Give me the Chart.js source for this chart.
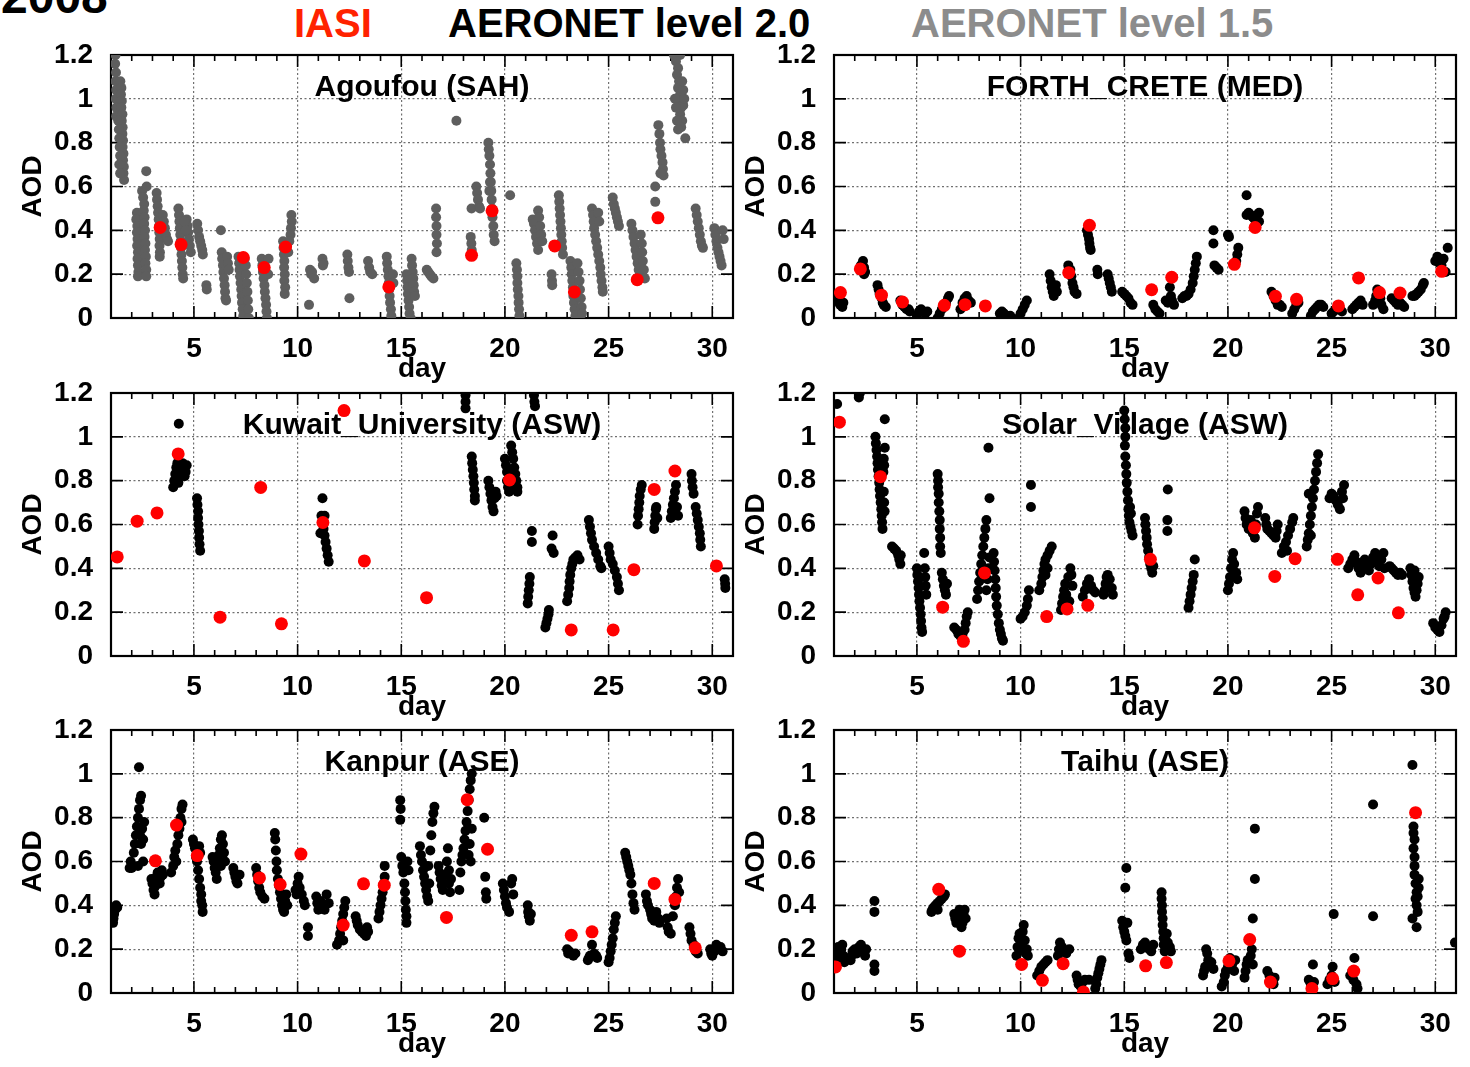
<!DOCTYPE html>
<html><head><meta charset="utf-8">
<script src="https://cdn.jsdelivr.net/npm/chart.js@4.4.1/dist/chart.umd.min.js"></script>
<style>
html,body{margin:0;padding:0;background:#fff;overflow:hidden;width:1470px;height:1067px;position:relative;}
.hd{position:absolute;font-family:'Liberation Sans',Arial,sans-serif;font-weight:bold;font-size:40px;line-height:40px;white-space:nowrap;}
canvas{position:absolute;}
</style></head><body>
<div class="hd" style="left:1px;top:-27px;font-size:48px;line-height:48px;color:#000">2008</div>
<div class="hd" style="left:294px;top:3px;color:#ff2200">IASI</div>
<div class="hd" style="left:448px;top:3px;color:#000">AERONET level 2.0</div>
<div class="hd" style="left:911px;top:3px;color:#8c8c8c">AERONET level 1.5</div>
<canvas id="c0" width="752" height="367" style="left:11px;top:19px"></canvas>
<canvas id="c1" width="752" height="367" style="left:734px;top:19px"></canvas>
<canvas id="c2" width="752" height="367" style="left:11px;top:357px"></canvas>
<canvas id="c3" width="752" height="367" style="left:734px;top:357px"></canvas>
<canvas id="c4" width="752" height="367" style="left:11px;top:694px"></canvas>
<canvas id="c5" width="752" height="367" style="left:734px;top:694px"></canvas>
<script>
// ---- axes ----
const xTicks = [5, 10, 15, 20, 25, 30];
const yTicks = [0, 0.2, 0.4, 0.6, 0.8, 1, 1.2];
const stations = ['Agoufou (SAH)', 'FORTH_CRETE (MED)', 'Kuwait_University (ASW)', 'Solar_Village (ASW)', 'Kanpur (ASE)', 'Taihu (ASE)'];

// ---- Agoufou (AERONET level 1.5) ----
const agoufouAeronet = [
[1.22,1.2],[1.2,1.16],[1.24,1.12],[1.22,1.08],[1.25,1.04],[1.23,1.0],[1.26,0.96],[1.25,0.92],
[1.45,1.08],[1.5,1.05],[1.48,1.02],[1.52,0.99],[1.5,0.96],[1.55,0.93],[1.52,0.9],[1.56,0.87],[1.55,0.84],[1.58,0.81],[1.56,0.78],[1.6,0.75],[1.58,0.72],[1.62,0.69],[1.6,0.66],[1.63,0.63],[1.35,0.9],[1.38,0.86],[1.4,0.82],[1.42,0.78],[1.44,0.74],[1.4,0.7],[1.44,0.66],
[2.25,0.48],[2.22,0.45],[2.27,0.42],[2.25,0.39],[2.28,0.36],[2.26,0.33],[2.3,0.3],[2.28,0.27],[2.3,0.24],[2.32,0.21],[2.3,0.19],
[2.5,0.58],[2.55,0.55],[2.6,0.52],[2.58,0.49],[2.62,0.46],[2.6,0.43],[2.64,0.4],[2.62,0.37],[2.66,0.34],[2.64,0.31],[2.68,0.28],[2.66,0.25],[2.7,0.22],[2.7,0.19],[2.7,0.67],[2.72,0.6],
[3.2,0.57],[3.22,0.54],[3.25,0.51],[3.27,0.48],[3.3,0.45],[3.32,0.42],[3.33,0.39],[3.35,0.36],[3.34,0.33],[3.36,0.3],[3.35,0.28],
[3.5,0.47],[3.55,0.44],[3.6,0.41],[3.65,0.38],[3.7,0.36],[3.75,0.35],
[4.25,0.5],[4.28,0.47],[4.3,0.44],[4.32,0.41],[4.34,0.38],[4.36,0.35],[4.38,0.32],[4.4,0.29],[4.42,0.26],[4.44,0.23],[4.46,0.2],[4.48,0.18],[4.65,0.45],[4.7,0.42],[4.72,0.39],[4.76,0.36],[4.8,0.33],[4.85,0.3],[4.55,0.44],[4.6,0.4],
[5.16,0.43],[5.2,0.4],[5.25,0.37],[5.3,0.35],[5.35,0.33],[5.4,0.31],[5.43,0.29],[5.6,0.15],[5.62,0.13],
[6.3,0.4],[6.34,0.3],[6.36,0.27],[6.4,0.24],[6.42,0.21],[6.45,0.18],[6.48,0.15],[6.5,0.12],[6.52,0.09],[6.55,0.08],[6.6,0.28],[6.64,0.25],[6.68,0.22],
[7.15,0.28],[7.18,0.25],[7.2,0.22],[7.22,0.19],[7.25,0.16],[7.28,0.13],[7.3,0.1],[7.32,0.07],[7.35,0.04],[7.38,0.01],[7.5,0.24],[7.52,0.2],[7.55,0.16],[7.58,0.12],[7.6,0.08],[7.62,0.04],[7.65,0.0],[7.45,0.27],
[8.27,0.27],[8.3,0.24],[8.33,0.21],[8.36,0.18],[8.4,0.15],[8.42,0.12],[8.45,0.09],[8.48,0.06],[8.5,0.03],[8.52,0.0],[8.6,0.27],[8.58,0.2],
[9.3,0.35],[9.32,0.32],[9.34,0.29],[9.36,0.26],[9.35,0.23],[9.38,0.2],[9.36,0.17],[9.4,0.14],[9.38,0.11],[9.7,0.47],[9.72,0.44],[9.68,0.41],[9.66,0.38],[9.6,0.35],[9.55,0.3],
[10.55,0.06],[10.6,0.22],[10.65,0.2],[10.7,0.21],[10.8,0.18],
[11.2,0.27],[11.25,0.25],[11.22,0.24],
[12.4,0.29],[12.42,0.26],[12.45,0.23],[12.48,0.21],[12.5,0.09],
[13.4,0.26],[13.45,0.23],[13.5,0.21],[13.6,0.2],
[14.3,0.28],[14.32,0.25],[14.35,0.22],[14.38,0.19],[14.4,0.16],[14.42,0.13],[14.44,0.1],[14.46,0.07],[14.5,0.04],[14.52,0.01],[14.6,0.2],[14.62,0.16],
[15.25,0.2],[15.28,0.17],[15.3,0.14],[15.32,0.11],[15.35,0.08],[15.38,0.05],[15.4,0.02],[15.45,0.0],[15.5,0.27],[15.52,0.24],[15.55,0.21],[15.58,0.18],[15.6,0.15],[15.62,0.12],[15.66,0.1],
[16.23,0.22],[16.3,0.21],[16.38,0.2],[16.45,0.19],[16.55,0.18],[16.68,0.5],[16.68,0.46],[16.7,0.42],[16.7,0.38],[16.72,0.34],[16.7,0.3],
[17.66,0.9],
[18.39,0.5],[18.35,0.37],[18.38,0.34],[18.4,0.31],[18.62,0.6],[18.66,0.57],[18.7,0.54],[18.75,0.51],[18.8,0.5],
[19.2,0.8],[19.22,0.77],[19.25,0.74],[19.28,0.7],[19.3,0.66],[19.32,0.62],[19.34,0.58],[19.36,0.54],[19.38,0.5],[19.4,0.46],[19.44,0.42],[19.46,0.38],[19.5,0.35],[19.28,0.62],[19.25,0.58],
[20.25,0.56],[20.55,0.25],[20.58,0.22],[20.6,0.19],[20.6,0.16],[20.62,0.13],[20.65,0.1],[20.66,0.07],[20.68,0.04],[20.7,0.01],
[21.34,0.45],[21.4,0.43],[21.45,0.4],[21.5,0.37],[21.55,0.34],[21.6,0.31],[21.6,0.49],[21.65,0.46],[21.7,0.42],[21.75,0.38],[21.8,0.35],
[22.25,0.2],[22.27,0.17],[22.28,0.15],[22.6,0.56],[22.62,0.53],[22.64,0.5],[22.66,0.47],[22.68,0.44],[22.7,0.41],[22.72,0.38],[22.74,0.35],[22.76,0.32],[22.8,0.29],
[23.16,0.26],[23.2,0.23],[23.22,0.2],[23.25,0.17],[23.28,0.14],[23.3,0.1],[23.33,0.07],[23.36,0.04],[23.4,0.01],[23.5,0.25],[23.55,0.21],[23.6,0.17],[23.62,0.13],[23.66,0.09],[23.7,0.05],[23.72,0.02],
[24.2,0.5],[24.25,0.47],[24.28,0.44],[24.3,0.41],[24.35,0.38],[24.4,0.35],[24.45,0.32],[24.5,0.29],[24.55,0.26],[24.6,0.23],[24.62,0.2],[24.66,0.17],[24.7,0.14],[24.72,0.12],[24.5,0.48],[24.55,0.44],
[25.2,0.55],[25.25,0.52],[25.3,0.5],[25.35,0.48],[25.4,0.46],[25.45,0.44],[25.5,0.42],
[26.1,0.43],[26.15,0.4],[26.2,0.37],[26.25,0.34],[26.3,0.31],[26.35,0.28],[26.4,0.25],[26.45,0.22],[26.5,0.2],[26.55,0.38],[26.6,0.34],[26.62,0.3],[26.65,0.26],[26.7,0.22],[26.75,0.18],
[27.25,0.6],[27.25,0.53],[27.4,0.88],[27.45,0.84],[27.48,0.8],[27.5,0.77],[27.55,0.74],[27.6,0.71],[27.62,0.68],[27.65,0.65],[27.5,0.66],
[28.15,1.2],[28.3,1.2],[28.45,1.2],[28.25,1.17],[28.35,1.14],[28.3,1.11],[28.4,1.08],[28.35,1.05],[28.45,1.02],[28.4,0.99],[28.5,0.96],[28.45,0.93],[28.55,0.9],[28.5,0.87],[28.6,0.97],[28.65,1.0],[28.6,1.04],[28.55,1.08],[28.3,0.9],[28.35,0.86],[28.7,0.82],[28.2,1.0],[28.25,0.96],
[29.2,0.5],[29.25,0.47],[29.3,0.44],[29.35,0.41],[29.4,0.38],[29.45,0.35],[29.5,0.33],[29.55,0.32],
[30.1,0.41],[30.15,0.38],[30.2,0.35],[30.25,0.32],[30.3,0.3],[30.35,0.28],[30.4,0.26],[30.45,0.24],[30.5,0.4],[30.55,0.36]
];
const agoufouIasi = [[3.37,0.413],[4.38,0.335],[7.38,0.276],[8.39,0.23],[9.42,0.324],[14.4,0.142],[18.39,0.286],[19.38,0.489],[22.4,0.329],[23.35,0.119],[26.38,0.175],[27.38,0.457]];

// ---- FORTH_CRETE ----
const forthAeronet = [
[1.2,0.09],[1.25,0.07],[1.3,0.06],[1.4,0.05],[1.45,0.07],
[2.3,0.24],[2.4,0.26],[2.45,0.23],[2.5,0.21],[2.45,0.2],
[3.1,0.15],[3.15,0.13],[3.2,0.11],[3.3,0.09],[3.35,0.07],[3.4,0.06],[3.5,0.05],
[4.2,0.08],[4.3,0.06],[4.4,0.05],[4.5,0.04],[4.6,0.04],[4.65,0.03],
[5.0,0.01],[5.1,0.03],[5.2,0.04],[5.3,0.03],[5.4,0.02],[5.5,0.03],
[6.0,0.0],[6.1,0.02],[6.2,0.04],[6.3,0.06],[6.4,0.07],[6.5,0.09],[6.55,0.1],
[7.1,0.04],[7.2,0.07],[7.3,0.09],[7.4,0.1],[7.5,0.08],[7.6,0.07],
[9.0,0.02],[9.1,0.03],[9.2,0.02],[9.3,0.01],[9.4,0.0],[9.5,0.01],
[9.9,0.0],[10.0,0.02],[10.1,0.04],[10.2,0.06],[10.3,0.08],
[11.4,0.2],[11.45,0.17],[11.5,0.14],[11.55,0.12],[11.6,0.1],[11.7,0.15],[11.75,0.12],
[12.3,0.24],[12.4,0.22],[12.45,0.19],[12.5,0.16],[12.55,0.14],[12.6,0.12],[12.7,0.11],
[13.2,0.4],[13.25,0.38],[13.3,0.36],[13.32,0.34],[13.35,0.32],[13.38,0.31],[13.7,0.22],[13.72,0.2],
[14.2,0.2],[14.25,0.18],[14.3,0.16],[14.35,0.14],[14.4,0.12],
[14.9,0.12],[15.0,0.11],[15.1,0.1],[15.2,0.09],[15.3,0.07],[15.4,0.06],
[16.4,0.06],[16.5,0.04],[16.6,0.03],[16.7,0.02],
[17.0,0.08],[17.1,0.07],[17.2,0.14],[17.25,0.1],[17.3,0.08],[17.4,0.06],
[17.8,0.09],[17.9,0.1],[18.0,0.1],[18.1,0.11],[18.2,0.13],[18.3,0.16],[18.35,0.19],[18.4,0.22],[18.45,0.25],[18.5,0.28],
[19.3,0.4],[19.3,0.34],[19.35,0.24],[19.45,0.23],[19.55,0.22],
[20.0,0.38],[20.05,0.37],[20.4,0.26],[20.45,0.29],[20.5,0.32],
[20.9,0.56],[20.9,0.47],[21.0,0.48],[21.1,0.47],[21.2,0.46],[21.3,0.45],[21.4,0.47],[21.5,0.48],[21.4,0.43],[21.5,0.44],
[22.1,0.12],[22.2,0.1],[22.3,0.08],[22.4,0.06],[22.5,0.06],[22.6,0.05],
[23.1,0.02],[23.2,0.04],[23.3,0.06],[23.4,0.07],
[24.0,0.01],[24.1,0.03],[24.2,0.04],[24.3,0.05],[24.4,0.06],[24.5,0.06],[24.6,0.05],
[25.0,0.02],[25.1,0.03],[25.2,0.04],[25.3,0.05],[25.4,0.04],[25.5,0.03],
[26.0,0.04],[26.1,0.05],[26.2,0.06],[26.3,0.07],[26.4,0.08],[26.5,0.06],
[27.0,0.06],[27.1,0.08],[27.15,0.1],[27.2,0.13],[27.3,0.12],[27.35,0.09],[27.4,0.06],[27.5,0.04],
[27.9,0.09],[28.0,0.08],[28.1,0.07],[28.2,0.06],[28.3,0.07],[28.4,0.06],[28.5,0.05],
[28.9,0.1],[29.0,0.1],[29.1,0.11],[29.2,0.12],[29.3,0.13],[29.4,0.15],[29.45,0.16],
[30.0,0.26],[30.1,0.28],[30.2,0.25],[30.3,0.24],[30.4,0.27],[30.5,0.21],[30.6,0.32]
];
const forthIasi = [[1.31,0.116],[2.27,0.224],[3.29,0.104],[4.3,0.073],[6.32,0.058],[7.32,0.061],[8.3,0.055],[12.32,0.207],[13.32,0.423],[16.32,0.129],[17.29,0.186],[20.31,0.245],[21.31,0.413],[22.29,0.099],[23.31,0.085],[25.33,0.055],[26.3,0.183],[27.31,0.116],[28.3,0.114],[30.31,0.213]];

// ---- Kuwait_University ----
const kuwaitAeronet = [
[4.27,1.06],[4.0,0.77],[4.05,0.8],[4.1,0.83],[4.15,0.86],[4.2,0.88],[4.3,0.85],[4.35,0.82],[4.4,0.86],[4.45,0.88],[4.5,0.85],[4.55,0.82],[4.6,0.84],[4.65,0.87],[4.25,0.79],
[5.15,0.72],[5.17,0.69],[5.2,0.66],[5.2,0.63],[5.22,0.6],[5.24,0.57],[5.25,0.54],[5.27,0.51],[5.3,0.48],
[11.2,0.72],[11.15,0.64],[11.2,0.61],[11.25,0.58],[11.3,0.55],[11.35,0.52],[11.4,0.49],[11.45,0.46],[11.5,0.43],[11.1,0.56],[11.3,0.64],
[18.1,1.19],[18.1,1.16],[18.1,1.13],[18.4,0.91],[18.42,0.88],[18.45,0.85],[18.48,0.82],[18.5,0.79],[18.52,0.76],[18.55,0.73],[18.55,0.71],
[19.2,0.8],[19.25,0.77],[19.3,0.74],[19.35,0.71],[19.4,0.68],[19.45,0.66],[19.5,0.72],[19.55,0.75],[19.6,0.73],
[20.0,0.9],[20.05,0.87],[20.1,0.84],[20.1,0.8],[20.15,0.77],[20.2,0.75],[20.3,0.96],[20.35,0.93],[20.4,0.9],[20.45,0.86],[20.5,0.83],[20.55,0.8],[20.6,0.77],[20.6,0.75],[20.4,0.78],
[21.4,1.19],[21.42,1.16],[21.45,1.14],
[21.1,0.24],[21.12,0.27],[21.15,0.3],[21.18,0.33],[21.2,0.36],[21.3,0.57],[21.3,0.52],
[21.95,0.13],[22.0,0.15],[22.05,0.17],[22.1,0.19],[22.12,0.21],[22.3,0.55],[22.25,0.49],[22.35,0.47],
[23.0,0.25],[23.05,0.28],[23.1,0.31],[23.12,0.34],[23.15,0.37],[23.2,0.4],[23.25,0.42],[23.3,0.44],[23.4,0.45],[23.5,0.46],[23.6,0.44],
[24.05,0.62],[24.1,0.59],[24.15,0.56],[24.2,0.53],[24.3,0.5],[24.4,0.47],[24.5,0.44],[24.6,0.41],[24.65,0.4],
[25.0,0.5],[25.05,0.47],[25.1,0.44],[25.2,0.42],[25.3,0.39],[25.4,0.36],[25.45,0.33],[25.5,0.3],
[26.4,0.6],[26.42,0.64],[26.45,0.67],[26.48,0.7],[26.5,0.73],[26.55,0.76],[26.6,0.78],
[27.2,0.58],[27.22,0.61],[27.25,0.64],[27.28,0.67],[27.3,0.68],[27.35,0.63],
[28.0,0.63],[28.05,0.66],[28.1,0.69],[28.15,0.72],[28.2,0.75],[28.25,0.78],[28.3,0.68],[28.35,0.64],
[29.0,0.83],[29.02,0.8],[29.05,0.77],[29.1,0.74],[29.2,0.68],[29.25,0.65],[29.3,0.62],[29.35,0.59],[29.4,0.56],[29.42,0.53],[29.45,0.5],
[30.6,0.35],[30.62,0.33],[30.63,0.31]
];
const kuwaitIasi = [[1.3,0.452],[2.26,0.615],[3.22,0.653],[4.24,0.922],[6.26,0.177],[8.22,0.769],[9.22,0.147],[11.22,0.609],[12.24,1.12],[13.22,0.434],[16.22,0.266],[20.22,0.803],[23.2,0.119],[25.22,0.119],[26.22,0.394],[27.2,0.76],[28.2,0.844],[30.2,0.411]];

// ---- Solar_Village ----
const solarAeronet = [
[1.15,1.15],[2.2,1.18],[2.25,1.2],
[3.0,1.0],[3.02,0.97],[3.05,0.94],[3.08,0.91],[3.1,0.88],[3.12,0.85],[3.15,0.82],[3.18,0.79],[3.2,0.76],[3.22,0.73],[3.25,0.7],[3.28,0.67],[3.3,0.64],[3.32,0.61],[3.34,0.58],[3.4,0.9],[3.42,0.87],[3.38,0.84],[3.45,0.95],[3.45,1.08],[3.4,0.75],[3.42,0.7],[3.44,0.66],
[3.8,0.5],[3.9,0.49],[4.0,0.48],[4.1,0.46],[4.15,0.44],[4.2,0.42],[4.22,0.46],
[5.0,0.4],[5.02,0.37],[5.05,0.34],[5.08,0.31],[5.1,0.28],[5.12,0.25],[5.15,0.22],[5.18,0.19],[5.2,0.16],[5.22,0.13],[5.25,0.11],[5.35,0.47],[5.38,0.4],[5.4,0.36],[5.42,0.32],[5.45,0.28],
[6.0,0.83],[6.02,0.8],[6.02,0.77],[6.05,0.74],[6.05,0.7],[6.08,0.66],[6.1,0.62],[6.1,0.58],[6.12,0.54],[6.12,0.5],[6.15,0.47],[6.2,0.38],[6.25,0.35],[6.3,0.32],[6.35,0.3],[6.4,0.28],[6.45,0.33],
[6.8,0.13],[6.9,0.12],[7.0,0.1],[7.1,0.09],[7.2,0.1],[7.3,0.12],[7.35,0.15],[7.4,0.18],[7.45,0.2],
[7.9,0.26],[7.95,0.3],[8.0,0.34],[8.05,0.38],[8.1,0.42],[8.15,0.46],[8.2,0.5],[8.25,0.54],[8.3,0.58],[8.35,0.62],[8.45,0.95],[8.5,0.72],[8.35,0.3],[8.4,0.35],[8.45,0.4],[8.5,0.45],
[8.7,0.47],[8.72,0.43],[8.75,0.39],[8.78,0.35],[8.8,0.31],[8.82,0.27],[8.85,0.23],[8.9,0.19],[8.95,0.15],[9.0,0.12],[9.05,0.1],[9.1,0.08],[9.15,0.07],
[10.0,0.17],[10.1,0.18],[10.2,0.2],[10.3,0.23],[10.35,0.26],[10.4,0.3],[10.5,0.78],[10.5,0.68],
[10.9,0.3],[11.0,0.33],[11.05,0.36],[11.1,0.39],[11.15,0.42],[11.2,0.44],[11.3,0.46],[11.4,0.48],[11.5,0.5],[11.2,0.37],[11.3,0.4],
[11.95,0.21],[12.0,0.24],[12.05,0.27],[12.1,0.3],[12.15,0.33],[12.2,0.28],[12.3,0.36],[12.4,0.4],[12.45,0.37],[12.5,0.32],[12.35,0.25],
[13.0,0.27],[13.1,0.3],[13.2,0.33],[13.3,0.35],[13.4,0.32],[13.5,0.3],[13.6,0.29],
[14.0,0.28],[14.05,0.3],[14.1,0.33],[14.15,0.36],[14.2,0.37],[14.3,0.35],[14.4,0.31],[14.45,0.28],
[15.0,1.12],[15.02,1.08],[15.05,1.04],[15.05,1.0],[15.03,0.96],[15.05,0.91],[15.08,0.87],[15.1,0.83],[15.12,0.79],[15.15,0.75],[15.18,0.71],[15.2,0.67],[15.22,0.64],[15.25,0.61],[15.3,0.59],[15.35,0.57],[15.4,0.55],[15.28,0.68],[15.32,0.65],
[16.0,0.63],[16.02,0.6],[16.05,0.57],[16.08,0.54],[16.1,0.51],[16.15,0.48],[16.2,0.45],[16.25,0.42],[16.3,0.4],[16.35,0.38],[16.4,0.41],
[17.1,0.76],[17.08,0.62],[17.08,0.57],
[18.1,0.22],[18.15,0.25],[18.2,0.28],[18.25,0.31],[18.3,0.34],[18.35,0.37],[18.4,0.44],
[20.0,0.3],[20.05,0.33],[20.1,0.36],[20.15,0.4],[20.2,0.44],[20.25,0.47],[20.3,0.42],[20.4,0.38],[20.45,0.35],
[20.8,0.66],[20.85,0.63],[20.9,0.6],[21.0,0.58],[21.1,0.62],[21.2,0.56],[21.3,0.54],[21.35,0.6],[21.4,0.65],[21.45,0.68],
[21.8,0.63],[21.85,0.6],[21.9,0.58],[22.0,0.57],[22.1,0.56],[22.2,0.55],[22.3,0.54],[22.35,0.57],[22.4,0.6],
[22.6,0.47],[22.7,0.5],[22.8,0.52],[22.9,0.55],[23.0,0.58],[23.1,0.61],[23.15,0.63],[22.85,0.48],
[23.8,0.5],[23.85,0.53],[23.9,0.56],[23.95,0.6],[24.0,0.64],[24.05,0.68],[24.1,0.72],[24.15,0.76],[24.2,0.8],[24.25,0.84],[24.3,0.88],[24.35,0.92],[23.9,0.74],[24.0,0.55],
[24.9,0.72],[25.0,0.74],[25.1,0.73],[25.2,0.71],[25.3,0.69],[25.4,0.67],[25.5,0.75],[25.6,0.78],[25.55,0.72],
[25.8,0.4],[25.9,0.42],[26.0,0.44],[26.1,0.46],[26.2,0.43],[26.3,0.4],[26.4,0.38],[26.5,0.41],[26.6,0.44],
[26.8,0.39],[26.9,0.42],[27.0,0.45],[27.1,0.47],[27.2,0.44],[27.3,0.41],[27.4,0.44],[27.5,0.47],[27.55,0.4],
[27.8,0.41],[27.9,0.4],[28.0,0.39],[28.1,0.38],[28.2,0.37],[28.3,0.38],[28.4,0.37],
[28.8,0.4],[28.85,0.37],[28.9,0.34],[28.95,0.31],[29.0,0.29],[29.05,0.27],[29.1,0.3],[29.15,0.33],[29.2,0.36],[29.0,0.39],
[29.9,0.15],[30.0,0.13],[30.1,0.12],[30.2,0.11],[30.3,0.14],[30.4,0.17],[30.5,0.2],[30.45,0.18]
];
const solarIasi = [[1.26,1.067],[3.24,0.818],[6.24,0.223],[7.24,0.067],[8.26,0.379],[11.26,0.18],[12.24,0.215],[13.24,0.231],[16.26,0.441],[21.28,0.585],[22.26,0.363],[23.24,0.444],[25.28,0.441],[26.26,0.279],[27.24,0.356],[28.22,0.197]];

// ---- Kanpur ----
const kanpurAeronet = [
[1.1,0.32],[1.12,0.34],[1.15,0.36],[1.2,0.38],[1.25,0.4],[1.3,0.39],
[1.9,0.57],[1.95,0.6],[2.0,0.57],[2.1,0.64],[2.15,0.68],[2.2,0.72],[2.25,0.76],[2.3,0.8],[2.35,0.84],[2.4,0.88],[2.45,0.9],[2.4,0.72],[2.45,0.68],[2.5,0.75],[2.55,0.7],[2.6,0.78],[2.55,0.6],[2.3,0.58],[2.35,1.03],
[2.95,0.52],[3.0,0.5],[3.05,0.47],[3.1,0.45],[3.15,0.49],[3.2,0.53],[3.25,0.55],[3.3,0.52],[3.35,0.5],[3.4,0.53],[3.45,0.56],[3.5,0.54],
[3.9,0.55],[4.0,0.58],[4.05,0.62],[4.1,0.65],[4.15,0.6],[4.2,0.68],[4.25,0.72],[4.3,0.75],[4.35,0.8],[4.4,0.84],[4.45,0.86],[4.4,0.78],
[4.95,0.7],[5.0,0.68],[5.05,0.66],[5.1,0.62],[5.15,0.6],[5.2,0.56],[5.25,0.52],[5.3,0.48],[5.35,0.45],[5.35,0.42],[5.4,0.4],[5.42,0.37],[5.3,0.64],[5.25,0.67],
[5.9,0.62],[5.95,0.6],[6.0,0.57],[6.05,0.55],[6.1,0.52],[6.15,0.6],[6.2,0.63],[6.25,0.66],[6.3,0.7],[6.35,0.72],[6.4,0.68],[6.45,0.64],[6.5,0.6],[6.3,0.58],
[6.9,0.57],[6.95,0.55],[7.0,0.53],[7.05,0.51],[7.1,0.5],[7.2,0.54],
[8.0,0.57],[8.05,0.54],[8.1,0.51],[8.15,0.48],[8.2,0.46],[8.3,0.44],[8.4,0.43],
[8.9,0.73],[8.92,0.7],[8.95,0.65],[8.98,0.6],[9.0,0.56],[9.05,0.52],[9.1,0.49],[9.15,0.46],[9.2,0.43],[9.25,0.4],[9.3,0.38],[9.35,0.37],[9.4,0.42],[9.45,0.45],[9.5,0.4],
[9.9,0.47],[9.95,0.45],[10.0,0.5],[10.05,0.53],[10.1,0.48],[10.2,0.45],[10.3,0.42],[10.35,0.4],[10.5,0.3],[10.5,0.26],
[10.9,0.44],[10.95,0.41],[11.0,0.38],[11.1,0.42],[11.2,0.4],[11.3,0.38],[11.4,0.45],[11.5,0.41],
[11.9,0.22],[12.0,0.24],[12.05,0.27],[12.1,0.3],[12.15,0.33],[12.2,0.36],[12.25,0.39],[12.3,0.42],[12.2,0.24],
[12.8,0.35],[12.85,0.33],[12.9,0.31],[13.0,0.29],[13.1,0.28],[13.2,0.27],[13.3,0.26],[13.35,0.3],[13.4,0.28],
[13.9,0.34],[13.95,0.37],[14.0,0.4],[14.05,0.43],[14.1,0.46],[14.15,0.5],[14.2,0.53],[14.2,0.58],
[14.95,0.88],[14.97,0.84],[14.95,0.79],[15.0,0.62],[15.05,0.58],[15.1,0.55],[15.15,0.5],[15.18,0.46],[15.2,0.42],[15.22,0.38],[15.25,0.35],[15.25,0.32],[15.3,0.6],[15.35,0.56],
[15.9,0.67],[15.95,0.63],[16.0,0.6],[16.05,0.56],[16.1,0.53],[16.15,0.5],[16.2,0.47],[16.25,0.44],[16.3,0.42],[16.35,0.5],[16.4,0.65],[16.45,0.72],[16.5,0.78],[16.55,0.82],[16.6,0.85],[16.3,0.58],
[16.8,0.58],[16.85,0.55],[16.9,0.52],[16.95,0.49],[17.0,0.47],[17.05,0.5],[17.1,0.54],[17.2,0.6],[17.25,0.66],[17.3,0.5],[17.35,0.46],[17.4,0.52],[17.3,0.56],
[17.8,0.47],[17.85,0.55],[17.9,0.6],[17.95,0.63],[18.0,0.66],[18.05,0.7],[18.1,0.74],[18.15,0.78],[18.2,0.83],[18.25,0.88],[18.3,0.93],[18.35,0.97],[18.4,1.0],[18.35,0.6],[18.3,0.68],[18.4,0.75],[18.25,0.63],
[19.0,0.8],[19.05,0.53],[19.08,0.46],[19.1,0.43],
[19.9,0.5],[19.95,0.47],[20.0,0.44],[20.05,0.41],[20.1,0.39],[20.2,0.37],[20.3,0.5],[20.35,0.52],[20.4,0.45],
[21.1,0.4],[21.12,0.37],[21.15,0.35],[21.2,0.33],[21.25,0.36],
[23.0,0.2],[23.05,0.18],[23.1,0.19],[23.2,0.18],[23.3,0.17],[23.4,0.18],
[24.0,0.15],[24.05,0.16],[24.1,0.17],[24.2,0.22],[24.3,0.18],[24.4,0.17],[24.45,0.16],
[25.0,0.14],[25.05,0.16],[25.1,0.19],[25.15,0.22],[25.2,0.25],[25.25,0.29],[25.3,0.32],[25.35,0.35],
[25.8,0.64],[25.85,0.62],[25.9,0.6],[25.95,0.58],[26.0,0.56],[26.05,0.54],[26.1,0.5],[26.15,0.45],[26.2,0.41],[26.25,0.38],
[26.8,0.45],[26.85,0.42],[26.9,0.4],[27.0,0.38],[27.05,0.36],[27.1,0.34],[27.2,0.33],[27.3,0.37],[27.4,0.34],[27.45,0.32],
[27.8,0.34],[27.85,0.3],[27.9,0.28],[28.0,0.27],[28.1,0.35],[28.2,0.4],[28.25,0.44],[28.3,0.48],[28.35,0.52],[28.4,0.46],
[28.9,0.3],[28.95,0.27],[29.0,0.24],[29.1,0.22],[29.2,0.19],[29.3,0.18],
[29.9,0.2],[29.95,0.18],[30.0,0.17],[30.1,0.19],[30.2,0.22],[30.3,0.2],[30.4,0.21],[30.5,0.19]
];
const kanpurIasi = [[3.14,0.603],[4.16,0.766],[5.16,0.627],[8.16,0.525],[9.16,0.495],[10.16,0.634],[12.2,0.31],[13.18,0.498],[14.18,0.492],[17.18,0.345],[18.18,0.882],[19.16,0.656],[23.2,0.263],[24.2,0.279],[27.2,0.5],[28.2,0.427],[29.18,0.206]];

// ---- Taihu ----
const taihuAeronet = [
[1.05,0.13],[1.1,0.16],[1.15,0.19],[1.2,0.21],[1.25,0.18],[1.3,0.16],[1.35,0.2],[1.4,0.22],[1.45,0.17],[1.5,0.14],
[1.8,0.15],[1.85,0.17],[1.9,0.19],[2.0,0.2],[2.1,0.18],[2.2,0.21],[2.3,0.22],[2.4,0.19],[2.5,0.17],[2.55,0.2],
[2.95,0.42],[2.95,0.37],[2.95,0.13],[2.95,0.1],
[5.7,0.37],[5.75,0.38],[5.8,0.39],[5.9,0.4],[6.0,0.41],[6.1,0.42],[6.2,0.43],[6.3,0.44],[6.35,0.45],[6.0,0.38],
[6.8,0.36],[6.85,0.34],[6.9,0.32],[7.0,0.35],[7.1,0.33],[7.15,0.3],[7.2,0.32],[7.25,0.36],[7.3,0.38],[7.35,0.34],[7.05,0.38],
[9.8,0.17],[9.85,0.21],[9.9,0.25],[9.95,0.27],[10.0,0.22],[10.05,0.2],[10.1,0.28],[10.15,0.31],[10.2,0.24],[10.25,0.18],[10.3,0.2],[10.35,0.17],
[10.8,0.08],[10.9,0.1],[11.0,0.12],[11.1,0.13],[11.2,0.14],[11.3,0.15],
[11.8,0.17],[11.85,0.2],[11.9,0.23],[12.0,0.21],[12.1,0.19],[12.2,0.18],[12.35,0.2],
[12.7,0.08],[12.75,0.06],[12.8,0.04],[12.9,0.03],[13.0,0.05],[13.1,0.06],[13.3,0.06],
[13.6,0.02],[13.65,0.04],[13.7,0.07],[13.75,0.09],[13.8,0.11],[13.85,0.13],[13.9,0.15],
[15.1,0.57],[15.05,0.48],[14.9,0.33],[14.95,0.3],[15.0,0.28],[15.05,0.26],[15.1,0.24],[15.15,0.32],[15.2,0.18],[15.25,0.16],
[15.8,0.2],[15.9,0.22],[16.0,0.23],[16.1,0.21],[16.2,0.2],[16.3,0.19],[16.4,0.22],
[16.8,0.46],[16.8,0.43],[16.82,0.4],[16.82,0.37],[16.85,0.34],[16.85,0.31],[16.88,0.28],[16.9,0.25],[16.9,0.22],[16.95,0.19],[17.0,0.2],[17.1,0.23],[17.2,0.21],[17.25,0.19],[17.05,0.27],
[18.8,0.08],[18.85,0.1],[18.9,0.12],[18.95,0.2],[19.0,0.18],[19.05,0.15],[19.1,0.13],[19.2,0.14],[19.3,0.11],
[19.7,0.03],[19.8,0.05],[19.85,0.08],[19.9,0.1],[20.0,0.12],[20.05,0.14],[20.1,0.16],[20.2,0.13],[20.3,0.1],[20.35,0.15],
[21.3,0.75],[21.3,0.52],[21.2,0.34],[20.8,0.07],[20.85,0.1],[20.9,0.13],[20.95,0.15],[21.0,0.14],[21.1,0.17],[21.15,0.2],[21.2,0.13],
[21.9,0.1],[22.0,0.08],[22.05,0.06],[22.1,0.05],[22.2,0.04],[22.25,0.07],
[24.1,0.13],[23.9,0.06],[24.0,0.04],[24.05,0.03],[24.1,0.02],[24.15,0.05],
[25.1,0.36],[25.05,0.12],[24.8,0.04],[24.9,0.06],[25.0,0.08],[25.15,0.05],
[26.1,0.16],[25.9,0.08],[26.0,0.1],[26.05,0.06],[26.2,0.04],[26.25,0.02],
[27.0,0.86],[27.0,0.35],
[28.9,1.04],[28.95,0.76],[28.95,0.73],[29.0,0.7],[28.95,0.66],[29.0,0.62],[29.0,0.58],[29.0,0.54],[29.05,0.5],[29.1,0.46],[29.05,0.43],[29.1,0.4],[29.15,0.37],[29.2,0.52],[29.2,0.48],[29.15,0.44],[28.9,0.34],[29.1,0.3],
[30.95,0.23]
];
const taihuIasi = [[1.07,0.119],[6.05,0.473],[7.05,0.191],[10.05,0.13],[11.05,0.058],[12.05,0.134],[13.03,0.005],[16.03,0.124],[17.03,0.139],[20.05,0.147],[21.05,0.244],[22.05,0.05],[24.05,0.02],[25.05,0.066],[26.07,0.1],[29.05,0.823]];

// ---- styling ----
const FONT = "'Liberation Sans', Arial, sans-serif";
const RED = '#ff0000';
const L15 = '#5e5e5e';
const L20 = '#000000';

const panels = [
  {id:'c0', title:stations[0], aer:agoufouAeronet, iasi:agoufouIasi, col:L15},
  {id:'c1', title:stations[1], aer:forthAeronet, iasi:forthIasi, col:L20},
  {id:'c2', title:stations[2], aer:kuwaitAeronet, iasi:kuwaitIasi, col:L20},
  {id:'c3', title:stations[3], aer:solarAeronet, iasi:solarIasi, col:L20},
  {id:'c4', title:stations[4], aer:kanpurAeronet, iasi:kanpurIasi, col:L20},
  {id:'c5', title:stations[5], aer:taihuAeronet, iasi:taihuIasi, col:L20}
];

const frame = {
  id: 'frame',
  beforeDatasetsDraw(chart) {
    const {ctx, chartArea: a, scales: {x, y}} = chart;
    ctx.save();
    ctx.strokeStyle = '#000';
    ctx.lineWidth = 1.6;
    ctx.beginPath();
    for (let d = Math.ceil(x.min) + 1; d < x.max; d++) {
      const px = x.getPixelForValue(d);
      const L = xTicks.includes(d) ? 12 : 6;
      ctx.moveTo(px, a.bottom); ctx.lineTo(px, a.bottom - L);
      ctx.moveTo(px, a.top); ctx.lineTo(px, a.top + L);
    }
    yTicks.forEach(v => {
      if (v <= y.min || v >= y.max) return;
      const py = y.getPixelForValue(v);
      ctx.moveTo(a.left, py); ctx.lineTo(a.left + 12, py);
      ctx.moveTo(a.right, py); ctx.lineTo(a.right - 12, py);
    });
    ctx.stroke();
    ctx.lineWidth = 2.2;
    ctx.strokeRect(a.left, a.top, a.right - a.left, a.bottom - a.top);
    ctx.restore();
  },
  afterDatasetsDraw(chart, args, opts) {
    const {ctx, chartArea: a} = chart;
    ctx.save();
    ctx.font = 'bold 30px ' + FONT;
    ctx.fillStyle = '#000';
    ctx.textAlign = 'center';
    ctx.textBaseline = 'alphabetic';
    ctx.fillText(opts.text, (a.left + a.right) / 2, a.top + 41);
    ctx.restore();
  }
};

const tickFont = {family: FONT, size: 28, weight: 'bold'};

panels.forEach(p => {
  new Chart(document.getElementById(p.id), {
    type: 'scatter',
    data: {
      datasets: [
        {label: 'IASI', data: p.iasi.map(([x, y]) => ({x, y})), backgroundColor: RED, borderWidth: 0, pointRadius: 6.5},
        {label: 'AERONET', data: p.aer.map(([x, y]) => ({x, y})), backgroundColor: p.col, borderWidth: 0, pointRadius: 5}
      ]
    },
    options: {
      responsive: false,
      devicePixelRatio: 1,
      animation: false,
      events: [],
      layout: {padding: {left: 0, top: 36, right: 30, bottom: 0}},
      plugins: {legend: {display: false}, tooltip: {enabled: false}, frame: {text: p.title}},
      scales: {
        x: {
          type: 'linear', min: 1, max: 31,
          afterBuildTicks: s => { s.ticks = xTicks.map(v => ({value: v})); },
          afterFit: s => { s.height = 68; },
          ticks: {autoSkip: false, maxRotation: 0, padding: 14, color: '#000', font: tickFont, callback: v => String(v)},
          grid: {color: '#707070', lineWidth: 1.2, drawTicks: false},
          border: {display: false, dash: [2, 2.5]},
          title: {display: true, text: 'day', color: '#000', font: tickFont, padding: {top: 0, bottom: 0}}
        },
        y: {
          type: 'linear', min: 0, max: 1.2,
          afterBuildTicks: s => { s.ticks = yTicks.map(v => ({value: v})); },
          afterFit: s => { s.width = 100; },
          ticks: {autoSkip: false, padding: 18, color: '#000', font: tickFont, callback: v => String(v)},
          grid: {color: '#707070', lineWidth: 1.2, drawTicks: false},
          border: {display: false, dash: [2, 2.5]},
          title: {display: true, text: 'AOD', color: '#000', font: tickFont, padding: {top: 5, bottom: 0}}
        }
      }
    },
    plugins: [frame]
  });
});
</script>
</body></html>
